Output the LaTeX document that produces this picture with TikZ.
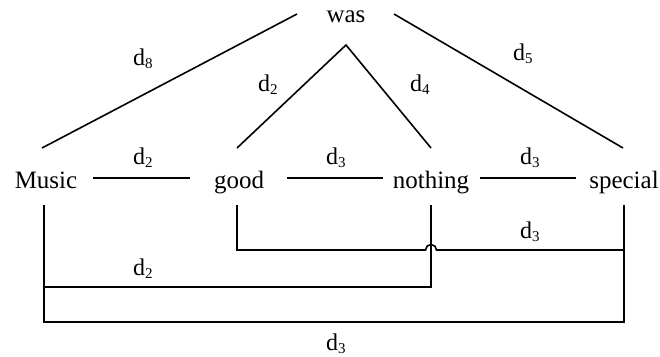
\documentclass[tikz,border=0pt]{standalone}
\usepackage{fontspec}
\setmainfont{Liberation Serif}
\newcommand{\dlab}[1]{d\raisebox{-0.35ex}{\fontsize{15}{15}\selectfont #1}}
\begin{document}
\begin{tikzpicture}[x=1pt,y=-1pt,
  word/.style={inner sep=0pt,anchor=base,font=\fontsize{25}{25}\selectfont},
  lab/.style={inner sep=0pt,anchor=base west,font=\fontsize{24}{24}\selectfont},
  ln/.style={line width=1.6pt,line cap=butt,line join=miter}]
\useasboundingbox (0,0) rectangle (660,356);
% words
\node[word] (was) at (346,22) {was};
\node[word] (music) at (46,188) {Music};
\node[word] (good) at (239,188) {good};
\node[word] (nothing) at (431,188) {nothing};
\node[word] (special) at (624,188) {special};
% tree lines
\coordinate (wl) at (297,14);
\coordinate (wr) at (394,14);
\coordinate (apex) at (346,45);
\coordinate (mt) at (42,148);
\coordinate (gt) at (237,148);
\coordinate (nt) at (431,148);
\coordinate (st) at (623,148);
\draw[ln] (wl) -- (mt);
\draw[ln] (wr) -- (st);
\draw[ln] (gt) -- (apex) -- (nt);
% row connectors
\coordinate (m1) at (93,178); \coordinate (g0) at (190,178);
\coordinate (g1) at (287,178); \coordinate (n0) at (383,178);
\coordinate (n1) at (480,178); \coordinate (s0) at (576,178);
\draw[ln] (m1) -- (g0);
\draw[ln] (g1) -- (n0);
\draw[ln] (n1) -- (s0);
% brackets
\coordinate (mb) at (44,205); \coordinate (gb) at (237,205);
\coordinate (nb) at (431,205); \coordinate (sb) at (624,205);
\draw[ln] (gb) -- (237,250) -- (425.5,250) arc[start angle=180,end angle=360,radius=5.5] -- (624,250);
\draw[ln] (nb) -- (431,287) -- (44,287);
\draw[ln] (mb) -- (44,322) -- (624,322) -- (sb);
% labels
\node[lab] (l1) at (133,65) {\dlab{8}};
\node[lab] (l2) at (258,91) {\dlab{2}};
\node[lab] (l3) at (410,91) {\dlab{4}};
\node[lab] (l4) at (513,60) {\dlab{5}};
\node[lab] (l5) at (133,164) {\dlab{2}};
\node[lab] (l6) at (326,164) {\dlab{3}};
\node[lab] (l7) at (520,164) {\dlab{3}};
\node[lab] (l8) at (520,238) {\dlab{3}};
\node[lab] (l9) at (133,275) {\dlab{2}};
\node[lab] (l10) at (326,350) {\dlab{3}};
\end{tikzpicture}
\end{document}
